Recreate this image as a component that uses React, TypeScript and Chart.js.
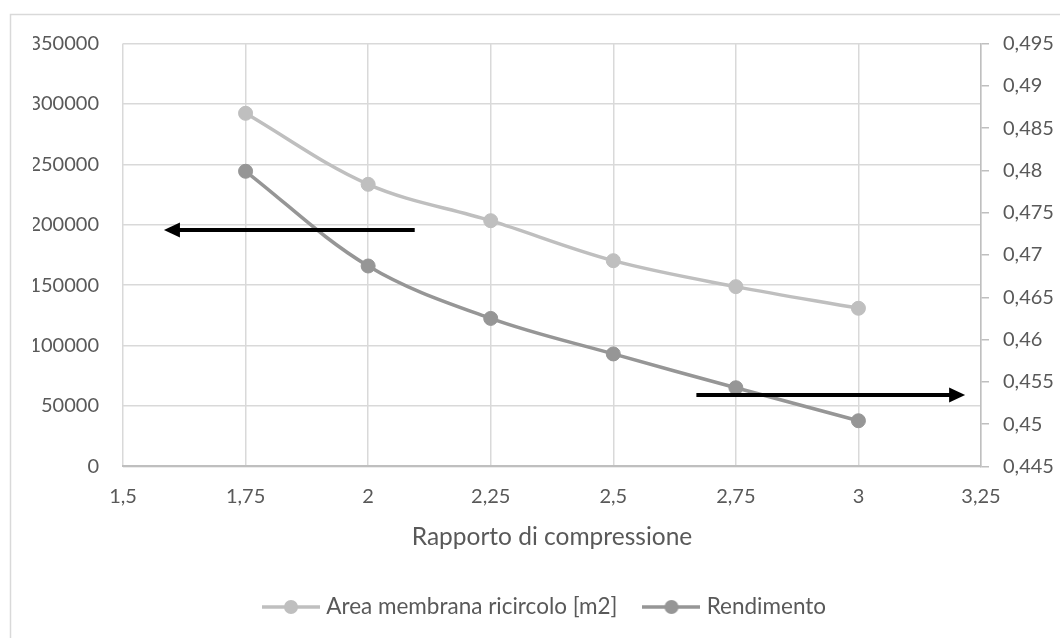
import React, { useEffect, useRef } from "react";
import { Chart, registerables } from "chart.js";

Chart.register(...registerables);

// ---- data ----
const ratios = [1.75, 2, 2.25, 2.5, 2.75, 3];
const areaMembrana = [292300, 233500, 203400, 170300, 148800, 130900];
const rendimento = [0.4799, 0.4687, 0.4625, 0.4583, 0.4543, 0.4504];

const xTicks = [1.5, 1.75, 2, 2.25, 2.5, 2.75, 3, 3.25];
const leftTicks = [0, 50000, 100000, 150000, 200000, 250000, 300000, 350000];
const rightTicks = [0.445, 0.45, 0.455, 0.46, 0.465, 0.47, 0.475, 0.48, 0.485, 0.49, 0.495];

const seriesLabels = ["Area membrana ricircolo [m2]", "Rendimento"];
const xTitle = "Rapporto di compressione";

// arrows in data units
const arrowLeft = { xFrom: 2.095, xTo: 1.5835, y: 195700, axis: "y" };
const arrowRight = { xFrom: 2.6695, xTo: 3.2176, y: 0.45344, axis: "y1" };

const FONT = "Lato, 'Open Sans', sans-serif";
const TEXT = "#595959";
const LIGHT = "#BFBFBF";
const DARK = "#969696";
const GRID = "#D9D9D9";

const fmt = (v: number) => String(Math.round(v * 100000) / 100000).replace(".", ",");

function makeIcon(color: string): HTMLCanvasElement {
  const c = document.createElement("canvas");
  c.width = 58;
  c.height = 16;
  const ctx = c.getContext("2d")!;
  ctx.strokeStyle = color;
  ctx.lineWidth = 3.5;
  ctx.beginPath();
  ctx.moveTo(0, 8);
  ctx.lineTo(58, 8);
  ctx.stroke();
  ctx.fillStyle = color;
  ctx.beginPath();
  ctx.arc(29, 8, 7, 0, Math.PI * 2);
  ctx.fill();
  return c;
}

const decoPlugin = {
  id: "deco",
  beforeDraw(chart: any) {
    const ctx = chart.ctx;
    ctx.save();
    ctx.fillStyle = "#ffffff";
    ctx.fillRect(0, 0, chart.width, chart.height);
    ctx.strokeStyle = GRID;
    ctx.lineWidth = 1.5;
    ctx.strokeRect(10.5, 14.5, chart.width + 20, chart.height + 20);
    ctx.restore();
  },
  afterDatasetsDraw(chart: any) {
    const ctx = chart.ctx;
    const xs = chart.scales.x;
    const draw = (a: any) => {
      const ys = chart.scales[a.axis];
      const x0 = xs.getPixelForValue(a.xFrom);
      const x1 = xs.getPixelForValue(a.xTo);
      const y = ys.getPixelForValue(a.y);
      const dir = Math.sign(x1 - x0);
      const headLen = 16;
      const headHalf = 7.5;
      ctx.save();
      ctx.strokeStyle = "#000";
      ctx.fillStyle = "#000";
      ctx.lineWidth = 4;
      ctx.beginPath();
      ctx.moveTo(x0, y);
      ctx.lineTo(x1 - dir * headLen * 0.6, y);
      ctx.stroke();
      ctx.beginPath();
      ctx.moveTo(x1, y);
      ctx.lineTo(x1 - dir * headLen, y - headHalf);
      ctx.lineTo(x1 - dir * headLen, y + headHalf);
      ctx.closePath();
      ctx.fill();
      ctx.restore();
    };
    draw(arrowLeft);
    draw(arrowRight);
  },
};

export default function App() {
  const ref = useRef<HTMLCanvasElement | null>(null);

  useEffect(() => {
    if (!ref.current) return;
    const icons = [makeIcon(LIGHT), makeIcon(DARK)];
    const chart = new Chart(ref.current, {
      type: "line",
      data: {
        datasets: [
          {
            label: seriesLabels[0],
            data: ratios.map((x, i) => ({ x, y: areaMembrana[i] })),
            yAxisID: "y",
            borderColor: LIGHT,
            backgroundColor: LIGHT,
            pointBackgroundColor: LIGHT,
            pointBorderColor: LIGHT,
            borderWidth: 3.5,
            pointRadius: 7,
            pointBorderWidth: 1,
            tension: 0.35,
          },
          {
            label: seriesLabels[1],
            data: ratios.map((x, i) => ({ x, y: rendimento[i] })),
            yAxisID: "y1",
            borderColor: DARK,
            backgroundColor: DARK,
            pointBackgroundColor: DARK,
            pointBorderColor: DARK,
            borderWidth: 3.5,
            pointRadius: 7,
            pointBorderWidth: 1,
            tension: 0.35,
          },
        ],
      },
      options: {
        responsive: false,
        animation: false,
        layout: { padding: { left: 33, right: 0, top: 43.6, bottom: 9.75 } },
        scales: {
          x: {
            type: "linear",
            min: xTicks[0],
            max: xTicks[xTicks.length - 1],
            afterBuildTicks: (s: any) => {
              s.ticks = xTicks.map((v) => ({ value: v }));
            },
            afterFit: (s: any) => {
              s.height = 99.35;
            },
            ticks: {
              autoSkip: false,
              maxRotation: 0,
              padding: 18.6,
              color: TEXT,
              font: { family: FONT, size: 20 },
              callback: (v: any) => fmt(Number(v)),
            },
            grid: { color: GRID, lineWidth: 1.5, drawTicks: false },
            border: { color: LIGHT, width: 2 },
            title: {
              display: true,
              text: xTitle,
              color: TEXT,
              font: { family: FONT, size: 24.5 },
              padding: { top: 0, bottom: 14 },
            },
          },
          y: {
            position: "left",
            min: leftTicks[0],
            max: leftTicks[leftTicks.length - 1],
            afterBuildTicks: (s: any) => {
              s.ticks = leftTicks.map((v) => ({ value: v }));
            },
            afterFit: (s: any) => {
              s.width = 90;
            },
            ticks: {
              padding: 24,
              color: TEXT,
              font: { family: FONT, size: 20 },
              callback: (v: any) => String(v),
            },
            grid: { color: GRID, lineWidth: 1.5, drawTicks: false },
            border: { display: false },
          },
          y1: {
            position: "right",
            min: rightTicks[0],
            max: rightTicks[rightTicks.length - 1],
            afterBuildTicks: (s: any) => {
              s.ticks = rightTicks.map((v) => ({ value: v }));
            },
            afterFit: (s: any) => {
              s.width = 79;
            },
            ticks: {
              padding: 14,
              color: TEXT,
              font: { family: FONT, size: 20 },
              callback: (v: any) => fmt(Number(v)),
            },
            grid: { drawOnChartArea: false, drawTicks: true, tickLength: 8, color: LIGHT, lineWidth: 1.5 },
            border: { color: LIGHT, width: 1.5 },
          },
        },
        plugins: {
          tooltip: { enabled: false },
          legend: {
            position: "bottom",
            labels: {
              usePointStyle: true,
              pointStyleWidth: 48,
              padding: 30,
              color: TEXT,
              font: { family: FONT, size: 22.5 },
              generateLabels: (c: any) => {
                const items = (Chart.defaults.plugins.legend.labels as any).generateLabels(c);
                items.forEach((it: any, i: number) => {
                  it.pointStyle = icons[i];
                  it.fontColor = TEXT;
                });
                return items;
              },
            },
          },
        },
      } as any,
      plugins: [decoPlugin],
    });
    return () => chart.destroy();
  }, []);

  return (
    <div style={{ position: "fixed", left: 0, top: 0, width: 1060, height: 638, background: "#fff" }}>
      <canvas ref={ref} width={1060} height={638} style={{ display: "block" }} />
    </div>
  );
}
